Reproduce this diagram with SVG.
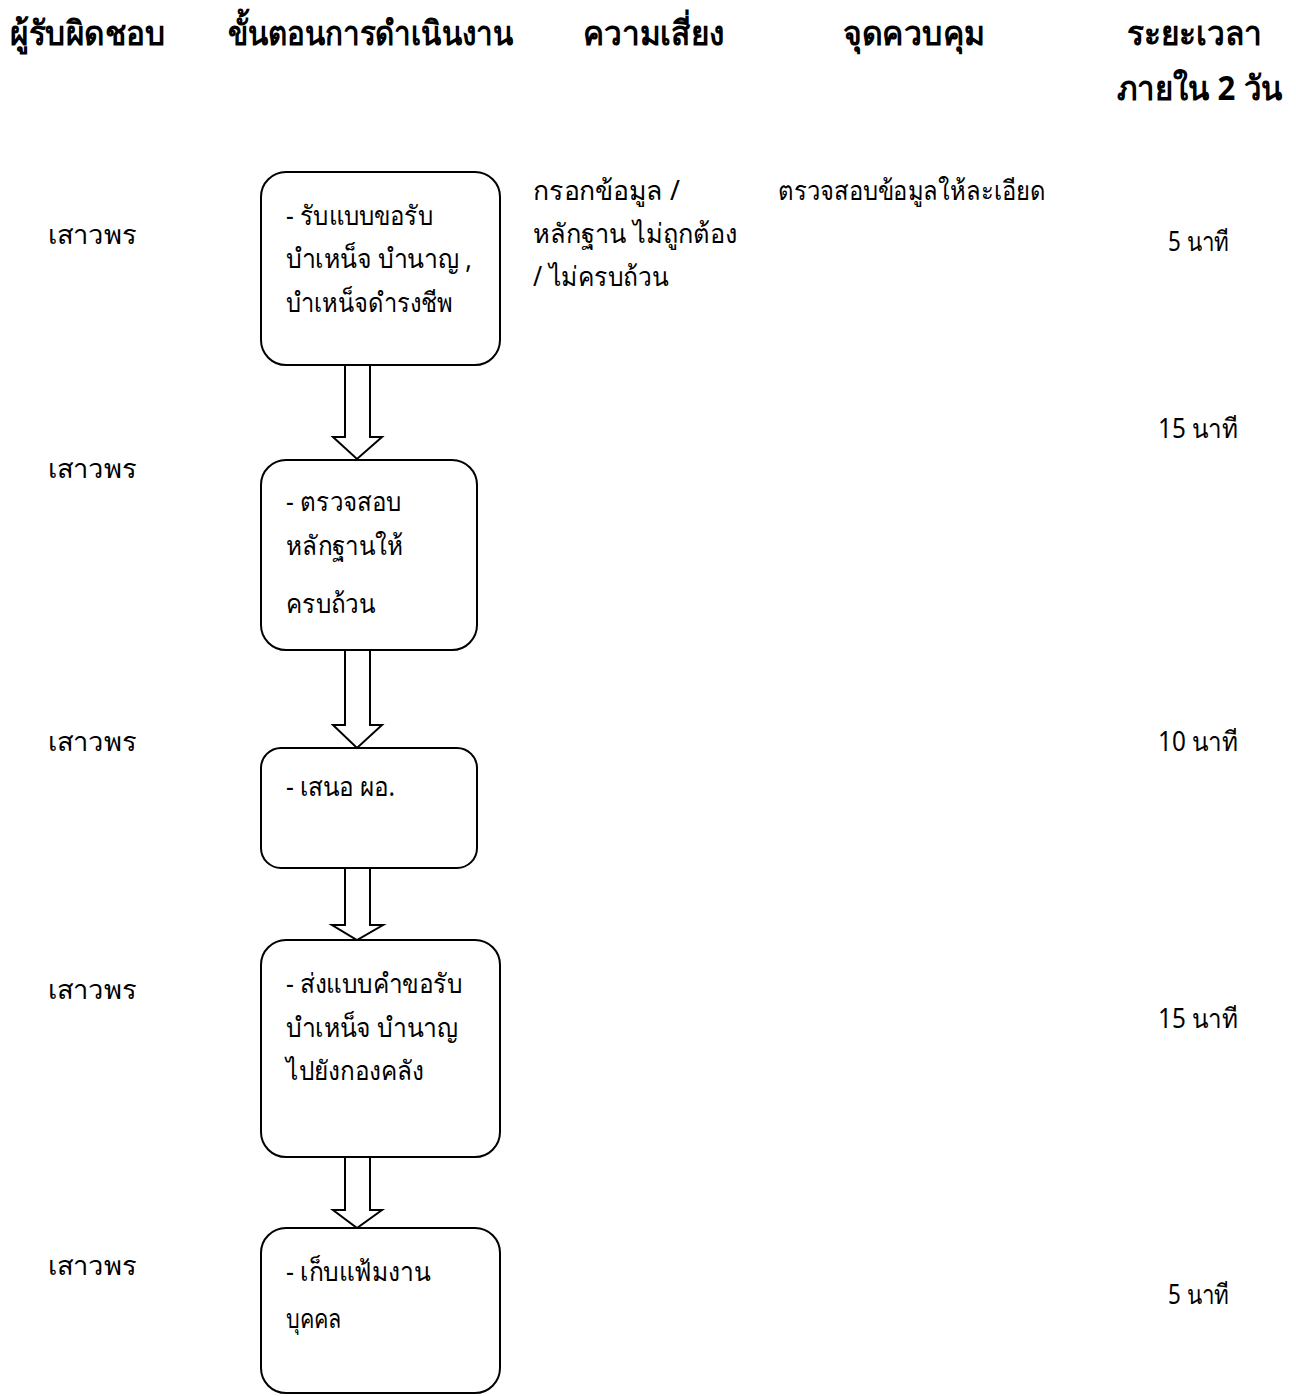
<svg xmlns="http://www.w3.org/2000/svg" width="1296" height="1396" viewBox="0 0 1296 1396">
<style>
text{font-family:"Noto Sans","DejaVu Sans",sans-serif;fill:#000}
.h{font-size:34px;font-weight:bold}
.t{font-size:27px}
.box{fill:#fff;stroke:#000;stroke-width:2}
.arr{fill:#fff;stroke:#000;stroke-width:2;stroke-linejoin:miter}
</style>
<rect width="1296" height="1396" fill="#fff"/>
<g id="headers">
<text class="h" x="10" y="45" textLength="155" lengthAdjust="spacingAndGlyphs">ผู้รับผิดชอบ</text>
<text class="h" x="228" y="45" textLength="285" lengthAdjust="spacingAndGlyphs">ขั้นตอนการดำเนินงาน</text>
<text class="h" x="583" y="45" textLength="142" lengthAdjust="spacingAndGlyphs">ความเสี่ยง</text>
<text class="h" x="843" y="45" textLength="142" lengthAdjust="spacingAndGlyphs">จุดควบคุม</text>
<text class="h" x="1127" y="45" textLength="135" lengthAdjust="spacingAndGlyphs">ระยะเวลา</text>
<text class="h" x="1117" y="100" textLength="165" lengthAdjust="spacingAndGlyphs">ภายใน 2 วัน</text>
</g>
<g id="responsible">
<text class="t" x="48" y="244" textLength="89" lengthAdjust="spacingAndGlyphs">เสาวพร</text>
<text class="t" x="48" y="478" textLength="89" lengthAdjust="spacingAndGlyphs">เสาวพร</text>
<text class="t" x="48" y="751" textLength="89" lengthAdjust="spacingAndGlyphs">เสาวพร</text>
<text class="t" x="48" y="999" textLength="89" lengthAdjust="spacingAndGlyphs">เสาวพร</text>
<text class="t" x="48" y="1275" textLength="89" lengthAdjust="spacingAndGlyphs">เสาวพร</text>
</g>
<g id="connectors">
<path class="arr" d="M345,365 V437 H333 L357,459 L382,437 H370 V365"/>
<path class="arr" d="M345,650 V725 H333 L357,748 L382,725 H370 V650"/>
<path class="arr" d="M345,868 V925 H332 L357,940 L383,925 H370 V868"/>
<path class="arr" d="M345,1157 V1210 H333 L357,1228 L382,1210 H370 V1157"/>
</g>
<g id="step1">
<rect class="box" x="261" y="172" width="239" height="193" rx="25"/>
<text class="t" x="286" y="225" textLength="147" lengthAdjust="spacingAndGlyphs">- รับแบบขอรับ</text>
<text class="t" x="286" y="268" textLength="186" lengthAdjust="spacingAndGlyphs">บำเหน็จ บำนาญ ,</text>
<text class="t" x="286" y="312" textLength="167" lengthAdjust="spacingAndGlyphs">บำเหน็จดำรงชีพ</text>
</g>
<g id="step2">
<rect class="box" x="261" y="460" width="216" height="190" rx="25"/>
<text class="t" x="286" y="511" textLength="115" lengthAdjust="spacingAndGlyphs">- ตรวจสอบ</text>
<text class="t" x="286" y="555" textLength="117" lengthAdjust="spacingAndGlyphs">หลักฐานให้</text>
<text class="t" x="286" y="613" textLength="89" lengthAdjust="spacingAndGlyphs">ครบถ้วน</text>
</g>
<g id="step3">
<rect class="box" x="261" y="748" width="216" height="120" rx="20"/>
<text class="t" x="286" y="796" textLength="109" lengthAdjust="spacingAndGlyphs">- เสนอ ผอ.</text>
</g>
<g id="step4">
<rect class="box" x="261" y="940" width="239" height="217" rx="25"/>
<text class="t" x="286" y="993" textLength="176" lengthAdjust="spacingAndGlyphs">- ส่งแบบคำขอรับ</text>
<text class="t" x="286" y="1037" textLength="172" lengthAdjust="spacingAndGlyphs">บำเหน็จ บำนาญ</text>
<text class="t" x="286" y="1080" textLength="138" lengthAdjust="spacingAndGlyphs">ไปยังกองคลัง</text>
</g>
<g id="step5">
<rect class="box" x="261" y="1228" width="239" height="165" rx="25"/>
<text class="t" x="286" y="1281" textLength="144" lengthAdjust="spacingAndGlyphs">- เก็บแฟ้มงาน</text>
<text class="t" x="286" y="1328" textLength="56" lengthAdjust="spacingAndGlyphs">บุคคล</text>
</g>
<g id="risk">
<text class="t" x="533" y="200" textLength="147" lengthAdjust="spacingAndGlyphs">กรอกข้อมูล /</text>
<text class="t" x="533" y="243" textLength="204" lengthAdjust="spacingAndGlyphs">หลักฐาน ไม่ถูกต้อง</text>
<text class="t" x="533" y="286" textLength="135" lengthAdjust="spacingAndGlyphs">/ ไม่ครบถ้วน</text>
</g>
<g id="control">
<text class="t" x="778" y="200" textLength="268" lengthAdjust="spacingAndGlyphs">ตรวจสอบข้อมูลให้ละเอียด</text>
</g>
<g id="time">
<text class="t" x="1168" y="251" textLength="61" lengthAdjust="spacingAndGlyphs">5 นาที</text>
<text class="t" x="1158" y="438" textLength="80" lengthAdjust="spacingAndGlyphs">15 นาที</text>
<text class="t" x="1158" y="751" textLength="80" lengthAdjust="spacingAndGlyphs">10 นาที</text>
<text class="t" x="1158" y="1028" textLength="80" lengthAdjust="spacingAndGlyphs">15 นาที</text>
<text class="t" x="1168" y="1304" textLength="61" lengthAdjust="spacingAndGlyphs">5 นาที</text>
</g>
</svg>
